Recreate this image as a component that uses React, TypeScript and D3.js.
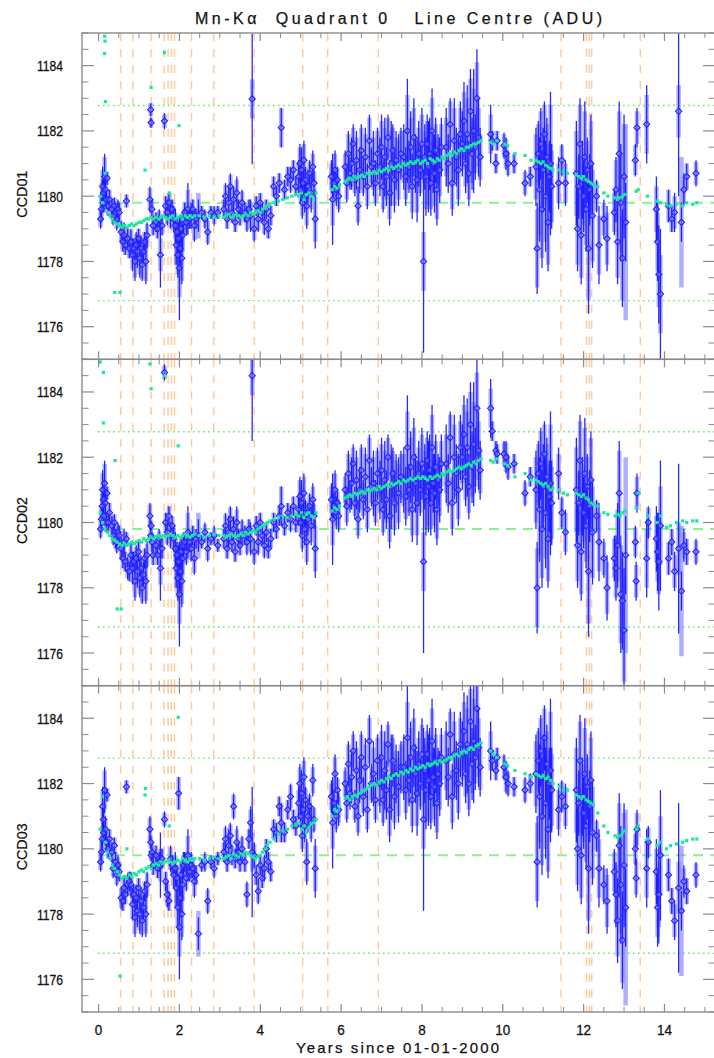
import React from "react";
import * as d3 from "d3";

// ---------------- data ----------------
const X_DOMAIN = [-0.41, 15.25];
const Y_DOMAIN = [1175, 1185];
const Y_MAJOR = [1176, 1178, 1180, 1182, 1184];
const X_MAJOR = [0, 2, 4, 6, 8, 10, 12, 14];
const PANEL_NAMES = ["CCD01", "CCD02", "CCD03"];
const TITLE = "Mn-K\u03b1  Quadrant 0   Line Centre (ADU)";
const X_TITLE = "Years since 01-01-2000";

// reference levels (dotted band and dashed centre)
const REF_DOTTED = [1176.8, 1182.78];
const REF_DASHED = [1179.8];

// event epochs (orange dashed verticals)
const EVENTS = [0.55, 0.85, 1.3, 1.62, 1.72, 1.8, 1.88, 2.3, 2.85, 3.85, 5.05, 5.67, 6.92, 11.44, 12.07, 12.14, 12.2, 13.4];

// observation epochs (years)
const TIMES = [
  0.05, 0.07, 0.09, 0.10, 0.12, 0.13, 0.15, 0.17, 0.19, 0.21, 0.24, 0.27,
  0.33, 0.36, 0.39, 0.42, 0.45, 0.48, 0.51,
  0.56, 0.60, 0.63, 0.66, 0.69, 0.72, 0.76,
  0.80, 0.84, 0.87, 0.90, 0.93, 0.96, 0.99, 1.02, 1.05, 1.08, 1.11, 1.14, 1.17, 1.20,
  1.27, 1.29, 1.30, 1.32, 1.35,
  1.42, 1.46, 1.50, 1.53, 1.57,
  1.63, 1.66, 1.70, 1.74, 1.78, 1.82, 1.86,
  1.90, 1.92, 1.94, 1.96, 1.98, 2.00, 2.02, 2.04, 2.06, 2.08, 2.10,
  2.13, 2.17, 2.21, 2.25, 2.29, 2.33, 2.37, 2.41,
  2.47, 2.55, 2.63, 2.70, 2.78, 2.86, 2.95,
  3.10, 3.14, 3.18, 3.22, 3.26, 3.30, 3.34, 3.38, 3.42, 3.46, 3.50, 3.55,
  3.62, 3.67, 3.72, 3.76, 3.80, 3.85, 3.90, 3.95, 4.00, 4.05, 4.10, 4.15, 4.20, 4.26,
  4.33, 4.40, 4.47, 4.52, 4.60, 4.68, 4.75, 4.82, 4.88,
  4.95, 4.98, 5.00, 5.02, 5.04, 5.06, 5.08, 5.10, 5.12, 5.15, 5.18, 5.22, 5.26, 5.30, 5.33, 5.36,
  5.76, 5.79, 5.82, 5.85, 5.88, 5.91, 5.94,
  6.10, 6.14, 6.18, 6.22, 6.26, 6.30, 6.34, 6.38, 6.42, 6.46, 6.50, 6.55, 6.60, 6.65, 6.70, 6.75, 6.80, 6.85, 6.90,
  6.96, 7.00, 7.04, 7.08, 7.12, 7.16, 7.20, 7.24, 7.28, 7.32, 7.36, 7.42, 7.48,
  7.55, 7.60, 7.64, 7.68, 7.72, 7.76, 7.80, 7.84, 7.88, 7.92, 7.96, 8.00,
  8.04, 8.07, 8.10, 8.13, 8.16, 8.19, 8.22, 8.25, 8.28, 8.31, 8.34, 8.37, 8.40, 8.44, 8.48,
  8.60, 8.65, 8.70, 8.75, 8.80, 8.85, 8.90, 8.95,
  9.00, 9.04, 9.08, 9.12, 9.16, 9.20, 9.24, 9.28, 9.32, 9.36, 9.40, 9.44,
  9.70, 9.74, 9.83, 9.86, 10.03, 10.08, 10.13, 10.28,
  10.55, 10.68,
  10.82, 10.85, 10.88, 10.91, 10.94, 10.97, 11.00, 11.03, 11.06, 11.09, 11.12, 11.15, 11.18, 11.21,
  11.38, 11.46, 11.55,
  11.82, 11.85, 11.88, 11.91, 11.94, 11.97, 12.00, 12.03, 12.06, 12.09, 12.12, 12.15, 12.18, 12.22,
  12.32, 12.38, 12.50, 12.58,
  12.76, 12.80, 12.84, 12.88, 12.92, 12.96, 13.00, 13.04,
  13.28, 13.30, 13.32, 13.56, 13.60,
  13.80, 13.83, 13.86, 13.90,
  14.10, 14.18, 14.25, 14.35, 14.42, 14.48, 14.55,
  14.78,
];

const CCD01 = [
  1179.3, 1179.6, 1180.0, 1180.3, 1180.1, 1179.8, 1180.6, 1180.2, 1179.9, 1180.55, 1179.7, 1179.9,
  1179.6, 1179.4, 1179.7, 1179.5, 1179.3, 1179.6, 1179.5,
  1178.9, 1178.6, 1178.8, 1178.5, 1179.85, 1178.7, 1178.4,
  1178.6, 1178.2, 1178.4, 1178.0, 1178.5, 1178.3, 1178.7, 1178.1, 1178.4, 1177.9, 1178.3, 1178.6, 1178.0, 1178.8,
  1179.9, 1182.65, 1182.25, 1179.6, 1179.1,
  1179.2, 1179.0, 1179.3, 1178.2, 1179.1,
  1182.3, 1179.7, 1179.5, 1179.8, 1179.4, 1179.6, 1179.3,
  1179.1, 1178.5, 1178.9, 1178.2, 1178.7, 1177.8, 1178.4, 1179.0, 1178.1, 1178.8, 1179.2,
  1179.5, 1179.2, 1179.6, 1179.3, 1179.4, 1179.6, 1179.1, 1179.3,
  1179.4, 1179.5, 1179.3, 1178.9, 1179.5, 1179.4, 1179.5,
  1179.6, 1180.0, 1179.3, 1179.8, 1180.3, 1179.5, 1179.9, 1179.2, 1180.1, 1179.6, 1179.4, 1179.8,
  1179.5, 1179.3, 1179.6, 1179.4, 1182.98, 1179.0, 1179.7, 1179.3, 1179.8, 1179.5, 1179.2, 1179.6, 1179.0, 1179.4,
  1180.3, 1180.0, 1180.4, 1182.1, 1180.2, 1180.6, 1180.5, 1180.8, 1180.3,
  1180.6, 1181.0, 1180.2, 1180.8, 1179.8, 1180.4, 1181.1, 1180.0, 1180.5, 1179.7, 1180.3, 1180.7, 1180.1, 1180.9, 1180.4, 1179.3,
  1180.6, 1179.9, 1180.4, 1180.8, 1180.2, 1180.5, 1180.0,
  1180.9, 1180.4, 1181.3, 1180.7, 1181.0, 1181.6, 1180.5, 1181.1, 1179.7, 1180.8, 1181.4, 1180.6, 1181.2, 1180.3, 1181.7, 1180.9, 1181.0, 1180.4, 1181.3,
  1180.9, 1181.5, 1180.3, 1181.2, 1180.6, 1181.8, 1180.1, 1181.0, 1181.4, 1180.5, 1181.1, 1180.8, 1181.3,
  1181.2, 1180.6, 1182.0, 1180.9, 1181.5, 1180.3, 1181.8, 1181.0, 1180.5, 1181.3, 1180.8, 1181.6,
  1178.0, 1181.2, 1180.6, 1181.6, 1180.9, 1181.3, 1180.4, 1182.0, 1181.0, 1180.7, 1181.4, 1180.2, 1181.1, 1180.8, 1181.5,
  1181.5, 1181.0, 1182.2, 1180.4, 1181.7, 1181.2, 1180.8, 1181.9,
  1181.6, 1182.3, 1181.0, 1181.9, 1180.7, 1182.6, 1181.3, 1182.0, 1181.5, 1183.0, 1181.8, 1181.2,
  1181.9, 1181.7, 1181.0, 1181.7, 1181.55, 1181.3, 1181.0, 1181.0,
  1180.4, 1180.6,
  1180.9, 1178.4, 1181.3, 1180.2, 1181.6, 1179.6, 1180.8, 1181.9, 1180.0, 1181.2, 1179.2, 1180.6, 1181.0, 1180.3,
  1180.4, 1181.1, 1180.4,
  1180.7, 1179.0, 1180.3, 1181.6, 1178.8, 1180.5, 1180.0, 1181.2, 1179.6, 1180.8, 1178.4, 1180.2, 1181.0, 1179.4,
  1180.0, 1178.5, 1179.3, 1178.7,
  1179.5, 1180.2, 1178.6, 1181.3, 1179.8, 1178.1, 1180.6, 1179.2,
  1181.1, null, 1182.1, 1182.2, null,
  1179.6, 1178.6, 1177.6, 1177.0,
  1179.7, 1179.3, 1179.5, 1182.6, 1179.2, 1180.2, 1180.6,
  1180.7,
];

const CCD02 = [
  1179.8, 1180.1, 1180.5, 1181.0, 1180.7, 1180.2, 1181.2, 1180.6, 1180.0, 1180.9, 1180.0, 1180.3,
  1179.9, 1179.6, 1180.0, 1179.5, 1179.4, 1179.7, 1179.6,
  1179.2, 1178.9, 1179.4, 1178.8, 1179.5, 1178.6, 1178.5,
  1179.0, 1178.6, 1178.8, 1178.2, 1178.9, 1178.5, 1179.1, 1178.3, 1178.6, 1178.0, 1178.4, 1178.9, 1178.2, 1179.0,
  1180.2, 1179.6, 1179.9, 1179.4, 1179.0,
  1179.3, 1179.0, 1179.5, 1178.6, 1179.2,
  1184.6, 1180.0, 1179.7, 1180.2, 1179.6, 1179.9, 1179.5,
  1179.2, 1178.6, 1179.0, 1178.3, 1178.8, 1177.8, 1178.5, 1179.1, 1178.2, 1178.9, 1179.3,
  1179.4, 1179.1, 1179.7, 1179.4, 1179.2, 1179.6, 1178.9, 1179.5,
  1179.6, 1179.4, 1179.7, 1179.2, 1179.5, 1179.6, 1179.3,
  1179.5, 1179.9, 1179.2, 1179.7, 1180.1, 1179.4, 1179.8, 1179.1, 1180.0, 1179.5, 1179.3, 1179.7,
  1179.6, 1179.4, 1179.8, 1179.5, 1184.5, 1179.1, 1179.9, 1179.4, 1180.0, 1179.6, 1179.3, 1179.7, 1179.2, 1179.5,
  1180.0, 1179.8, 1180.2, 1180.5, 1179.9, 1180.3, 1180.1, 1180.5, 1180.0,
  1180.4, 1180.8, 1180.0, 1180.6, 1179.6, 1180.2, 1180.9, 1179.8, 1180.3, 1179.4, 1180.1, 1180.5, 1179.9, 1180.7, 1180.2, 1179.2,
  1180.7, 1180.1, 1180.5, 1181.0, 1180.3, 1180.6, 1180.2,
  1181.0, 1180.5, 1181.5, 1180.8, 1181.2, 1181.8, 1180.6, 1181.3, 1180.1, 1181.0, 1181.6, 1180.7, 1181.4, 1180.4, 1181.9, 1181.1, 1181.2, 1180.6, 1181.5,
  1181.0, 1181.6, 1180.4, 1181.3, 1180.7, 1182.0, 1180.2, 1181.1, 1181.5, 1180.6, 1181.2, 1180.9, 1181.4,
  1181.3, 1180.8, 1182.3, 1181.0, 1181.7, 1180.4, 1182.0, 1181.2, 1180.6, 1181.5, 1181.0, 1181.8,
  1178.8, 1181.4, 1180.8, 1181.9, 1181.1, 1181.6, 1180.6, 1182.3, 1181.2, 1180.9, 1181.7, 1180.4, 1181.3, 1181.0, 1181.8,
  1181.8, 1181.2, 1182.6, 1180.6, 1182.0, 1181.5, 1181.0, 1182.3,
  1182.0, 1182.7, 1181.4, 1182.3, 1181.1, 1183.0, 1181.7, 1182.4, 1181.9, 1183.5, 1182.2, 1181.6,
  1183.5, 1182.8, 1182.2, 1182.1, 1182.1, 1182.0, 1181.7, 1181.8,
  1180.9, 1181.4,
  1181.0, 1178.0, 1181.5, 1180.4, 1181.8, 1179.8, 1181.1, 1182.1, 1180.3, 1181.4, 1179.5, 1180.8, 1181.2, 1180.6,
  1181.5, 1180.3, 1179.7,
  1181.0, 1179.3, 1180.6, 1181.9, 1179.1, 1180.8, 1180.3, 1181.5, 1179.9, 1181.1, 1178.5, 1180.5, 1181.3, 1179.7,
  1180.2, 1179.4, 1178.9, 1178.0,
  1178.9, 1178.6, 1179.3, 1180.9, 1177.8, 1177.6, 1176.7, 1179.0,
  1179.4, 1178.2, 1180.9, 1178.9, 1180.0,
  1179.5, 1179.1, 1178.8, 1179.9,
  1178.9, 1179.4, 1178.5, 1179.2, 1177.9, 1179.3, 1179.1,
  1179.1,
];

const CCD03 = [
  1179.6, 1179.9, 1180.3, 1181.3, 1180.9, 1180.5, 1181.8, 1180.6, 1180.2, 1181.65, 1180.0, 1180.3,
  1179.9, 1179.4, 1180.1, 1179.6, 1179.2, 1179.5, 1179.3,
  1178.5, 1178.4, 1178.8, 1178.6, 1181.9, 1178.9, 1179.0,
  1178.9, 1178.3, 1178.6, 1177.9, 1178.5, 1178.1, 1178.8, 1178.0, 1178.4, 1177.8, 1178.2, 1178.7, 1178.0, 1178.9,
  1180.6, 1180.2, 1179.8, 1179.9, 1179.5,
  1179.8, 1179.4, 1179.6, 1179.5, 1179.7,
  1180.9, 1179.0, 1178.6, 1178.4, 1179.7, 1179.5, 1179.2,
  1179.4, 1178.8, 1179.1, 1178.2, 1181.7, 1177.6, 1178.5, 1179.2, 1178.0, 1178.9, 1179.5,
  1179.6, 1179.1, 1179.8, 1179.3, 1179.5, 1179.4, 1179.0, 1179.2,
  1177.4, 1179.5, 1179.6, 1178.4, 1179.6, 1179.4, 1179.7,
  1179.9, 1180.3, 1179.6, 1180.1, 1180.4, 1179.8, 1181.3, 1179.7, 1180.2, 1179.9, 1179.6, 1180.0,
  1179.6, 1178.6, 1180.3, 1180.8, 1179.9, 1179.8, 1179.2, 1178.7, 1179.5, 1179.1, 1179.4, 1180.0, 1179.6, 1179.3,
  1180.6, 1180.5, 1181.3, 1180.8, 1180.5, 1181.2, 1181.6, 1180.9, 1180.7,
  1181.4, 1182.0, 1181.0, 1181.7, 1180.4, 1181.2, 1182.2, 1180.7, 1181.5, 1179.6, 1181.0, 1181.3, 1180.8, 1182.1, 1180.9, 1179.4,
  1181.6, 1180.8, 1181.4, 1182.3, 1181.0, 1181.8, 1181.2,
  1182.0, 1181.4, 1182.6, 1181.7, 1182.2, 1183.0, 1181.3, 1182.4, 1181.0, 1182.1, 1182.8, 1181.6, 1182.5, 1181.2, 1183.3, 1182.0, 1182.3, 1181.5, 1182.7,
  1182.0, 1182.8, 1181.5, 1182.4, 1181.8, 1183.2, 1181.2, 1182.2, 1182.7, 1181.6, 1182.3, 1181.9, 1182.5,
  1182.5, 1181.8, 1183.4, 1182.1, 1182.8, 1181.5, 1183.1, 1182.3, 1181.7, 1182.6, 1182.0, 1182.9,
  1180.9, 1182.4, 1181.8, 1182.9, 1182.1, 1182.6, 1181.6, 1183.3, 1182.2, 1181.9, 1182.7, 1181.4, 1182.3, 1182.0, 1182.8,
  1182.7, 1182.2, 1183.5, 1181.6, 1182.9, 1182.4, 1182.0, 1183.2,
  1182.9, 1183.6, 1182.3, 1183.2, 1182.0, 1183.9, 1182.6, 1183.3, 1182.8, 1184.3, 1183.1, 1182.5,
  1183.0, 1182.7, 1182.4, 1182.8, 1182.5, 1182.2, 1182.0, 1181.9,
  1181.8, 1182.0,
  1182.3, 1179.6, 1182.7, 1181.6, 1183.0, 1181.0, 1182.2, 1183.4, 1181.4, 1182.6, 1180.6, 1182.0, 1182.4, 1181.8,
  1181.2, 1181.6, 1181.3,
  1181.8, 1180.0, 1181.4, 1182.7, 1179.8, 1181.6, 1181.1, 1182.3, 1180.7, 1181.9, 1179.4, 1181.3, 1182.1, 1180.5,
  1180.4, 1179.4, 1178.9, 1178.4,
  1179.3, 1178.6, 1177.8, 1180.1, 1178.9, 1177.2, 1179.5, 1178.2,
  1180.0, 1179.1, 1180.6, 1179.4, 1180.2,
  1179.3, 1178.2, 1178.6, 1179.8,
  1179.2, 1178.4, 1177.8, 1178.8, 1178.1, 1179.0, 1178.7,
  1179.2,
];

// half-lengths of the thin (dark) and thick (pale) error bars
const ERR_THIN = [
  0.3, 0.4, 0.5, 0.6, 0.4, 0.3, 0.7, 0.4, 0.3, 0.2, 0.3, 0.3,
  0.3, 0.3, 0.25, 0.3, 0.35, 0.3, 0.3,
  0.35, 0.3, 0.4, 0.3, 0.2, 0.35, 0.3,
  0.4, 0.5, 0.3, 0.6, 0.4, 0.5, 0.3, 0.6, 0.4, 0.5, 0.4, 0.3, 0.7, 0.4,
  0.4, 0.2, 0.15, 0.3, 0.3,
  0.3, 0.3, 0.3, 1.0, 0.3,
  0.25, 0.3, 0.4, 0.3, 0.4, 0.3, 0.4,
  0.5, 0.6, 0.4, 0.7, 0.5, 1.6, 0.6, 0.4, 0.8, 0.5, 0.4,
  0.3, 0.4, 0.8, 0.3, 0.4, 0.3, 0.5, 0.3,
  0.5, 0.2, 0.3, 0.4, 0.2, 0.3, 0.2,
  0.3, 0.4, 0.3, 0.5, 0.4, 0.3, 0.4, 0.3, 0.5, 0.3, 0.3, 0.4,
  0.3, 0.4, 0.3, 0.5, 2.0, 0.4, 0.3, 0.4, 0.3, 0.3, 0.4, 0.3, 0.3, 0.3,
  0.3, 0.3, 0.3, 0.6, 0.3, 0.3, 0.4, 0.3, 0.3,
  0.5, 0.6, 0.4, 0.7, 0.5, 0.4, 0.6, 0.5, 0.4, 0.7, 0.5, 0.4, 0.6, 0.5, 0.4, 0.9,
  0.5, 1.4, 0.4, 0.6, 0.5, 0.4, 0.5,
  0.5, 0.6, 0.7, 0.5, 0.8, 0.6, 0.5, 0.9, 0.6, 0.7, 0.8, 0.6, 0.9, 0.7, 0.8, 0.6, 1.0, 0.7, 0.8,
  0.9, 1.0, 0.8, 1.2, 0.9, 0.7, 1.0, 1.3, 0.8, 1.0, 0.9, 1.1, 0.8,
  1.0, 0.9, 1.6, 0.8, 1.1, 1.0, 1.2, 0.9, 1.3, 1.0, 0.8, 1.1,
  2.8, 1.0, 1.2, 0.9, 1.4, 1.1, 1.0, 1.3, 0.9, 1.2, 1.0, 1.1, 0.8, 1.0, 0.9,
  1.2, 0.9, 0.8, 1.0, 1.3, 0.9, 1.1, 1.0,
  1.0, 1.2, 0.9, 1.5, 1.0, 1.3, 1.1, 1.9, 1.0, 1.5, 1.2, 0.9,
  0.9, 0.3, 0.3, 0.3, 0.4, 0.5, 0.4, 0.3,
  0.4, 0.3,
  1.2, 1.4, 1.0, 1.6, 1.1, 1.8, 1.3, 1.0, 1.7, 1.2, 1.5, 1.1, 2.2, 1.3,
  0.8, 0.5, 0.7,
  1.6, 1.3, 1.0, 1.4, 1.5, 1.2, 1.1, 1.7, 1.3, 1.0, 2.0, 1.1, 1.5, 1.6,
  0.5, 1.2, 0.6, 1.0,
  0.7, 1.0, 1.3, 1.6, 1.8, 1.5, 1.9, 1.2,
  0.5, 0.6, 0.6, 1.2, 0.5,
  1.0, 1.2, 1.5, 2.0,
  0.5, 0.4, 0.6, 2.6, 0.6, 0.5, 0.4,
  0.4,
];

const ERR_THICK = [
  0.25, 0.35, 0.4, 0.5, 0.35, 0.3, 0.6, 0.35, 0.3, 0.2, 0.3, 0.3,
  0.3, 0.25, 0.25, 0.3, 0.3, 0.25, 0.3,
  0.3, 0.3, 0.35, 0.3, 0.2, 0.3, 0.3,
  0.35, 0.45, 0.3, 0.5, 0.35, 0.4, 0.3, 0.5, 0.35, 0.45, 0.35, 0.3, 0.6, 0.35,
  0.35, 0.2, 0.15, 0.3, 0.3,
  0.3, 0.3, 0.25, 0.5, 0.3,
  0.2, 0.3, 0.35, 0.3, 0.35, 0.3, 0.35,
  0.4, 0.6, 0.4, 0.6, 0.5, 0.9, 0.5, 0.4, 0.7, 0.5, 0.3,
  0.3, 0.35, 0.6, 0.3, 0.35, 0.3, 0.45, 0.3,
  0.7, 0.2, 0.25, 0.35, 0.2, 0.25, 0.2,
  0.3, 0.35, 0.3, 0.4, 0.35, 0.3, 0.35, 0.3, 0.4, 0.3, 0.3, 0.35,
  0.3, 0.35, 0.3, 0.4, 0.6, 0.35, 0.3, 0.35, 0.3, 0.3, 0.35, 0.3, 0.3, 0.3,
  0.3, 0.3, 0.3, 0.6, 0.3, 0.3, 0.35, 0.3, 0.3,
  0.4, 0.5, 0.35, 0.6, 0.4, 0.35, 0.5, 0.4, 0.35, 0.6, 0.4, 0.35, 0.5, 0.4, 0.35, 0.7,
  0.4, 0.8, 0.35, 0.5, 0.4, 0.35, 0.4,
  0.4, 0.5, 0.6, 0.4, 0.7, 0.5, 0.4, 0.7, 0.5, 0.6, 0.7, 0.5, 0.7, 0.6, 0.7, 0.5, 0.8, 0.6, 0.7,
  0.7, 0.8, 0.7, 0.9, 0.7, 0.6, 0.8, 1.0, 0.7, 0.8, 0.7, 0.9, 0.7,
  0.8, 0.7, 1.1, 0.7, 0.9, 0.8, 0.9, 0.7, 1.0, 0.8, 0.7, 0.9,
  0.9, 0.8, 1.0, 0.7, 1.2, 0.9, 0.8, 1.0, 0.7, 1.0, 0.8, 0.9, 0.7, 0.8, 0.7,
  0.9, 0.7, 0.7, 0.8, 1.0, 0.7, 0.9, 0.8,
  0.8, 0.9, 0.7, 1.1, 0.8, 1.0, 0.9, 1.3, 0.8, 1.1, 0.9, 0.7,
  0.6, 0.3, 0.3, 0.3, 0.35, 0.45, 0.35, 0.3,
  0.35, 0.3,
  1.0, 1.2, 0.9, 1.4, 1.0, 1.5, 1.1, 0.9, 1.4, 1.0, 1.3, 1.0, 1.8, 1.1,
  0.6, 0.45, 0.6,
  1.3, 1.1, 0.9, 1.2, 1.3, 1.0, 0.9, 1.4, 1.1, 0.9, 1.6, 0.9, 1.3, 1.4,
  0.45, 0.9, 0.5, 0.8,
  0.6, 0.9, 1.1, 1.3, 1.5, 1.3, 1.6, 3.0,
  0.45, 0.5, 0.5, 0.9, 0.45,
  0.7, 0.9, 1.0, 1.2,
  0.5, 0.4, 0.5, 0.8, 2.0, 0.4, 0.4,
  0.35,
];

// smoothed trend (cyan points)
const CYAN_T = [
  0.04, 0.10, 0.16, 0.22, 0.28, 0.34, 0.40, 0.46, 0.52, 0.58,
  0.64, 0.70, 0.76, 0.82, 0.88, 0.94, 1.00, 1.06, 1.12, 1.18,
  1.24, 1.30, 1.36, 1.42, 1.48, 1.54, 1.60, 1.66, 1.72, 1.78,
  1.84, 1.90, 1.96, 2.02, 2.08, 2.14, 2.20, 2.26, 2.32, 2.38,
  2.50, 2.62, 2.74, 2.86, 2.98,
  3.10, 3.16, 3.22, 3.28, 3.34, 3.40, 3.46, 3.52, 3.58, 3.64,
  3.70, 3.76, 3.82, 3.88, 3.94, 4.00, 4.06, 4.12, 4.18, 4.24,
  4.34, 4.45, 4.56, 4.67, 4.78, 4.88,
  4.96, 5.02, 5.08, 5.14, 5.20, 5.26, 5.32, 5.38,
  5.78, 5.84, 5.90, 5.96,
  6.10, 6.16, 6.22, 6.28, 6.34, 6.40, 6.46, 6.52, 6.58, 6.64,
  6.70, 6.76, 6.82, 6.88, 6.94, 7.00, 7.06, 7.12, 7.18, 7.24,
  7.30, 7.36, 7.42, 7.48, 7.54, 7.60, 7.66, 7.72, 7.78, 7.84,
  7.90, 7.96, 8.02, 8.08, 8.14, 8.20, 8.26, 8.32, 8.38, 8.44,
  8.50, 8.56, 8.62, 8.68, 8.74, 8.80, 8.86, 8.92, 8.98, 9.04,
  9.10, 9.16, 9.22, 9.28, 9.34, 9.40, 9.46,
  9.70, 9.76, 9.85, 10.05, 10.12, 10.30, 10.55, 10.70,
  10.82, 10.88, 10.94, 11.00, 11.06, 11.12, 11.18, 11.24,
  11.40, 11.50, 11.60,
  11.82, 11.88, 11.94, 12.00, 12.06, 12.12, 12.18, 12.24,
  12.35, 12.50, 12.60,
  12.78, 12.84, 12.90, 12.96, 13.02,
  13.30, 13.35, 13.58,
  13.82, 13.90, 14.05, 14.15, 14.30, 14.45, 14.55, 14.70, 14.80,
];

const CYAN01 = [
  1180.0, 1179.8, 1180.7, 1179.5, 1179.4, 1179.3, 1179.2, 1179.15, 1179.1, 1179.05,
  1179.1, 1179.05, 1179.1, 1179.15, 1179.1, 1179.15, 1179.2, 1179.2, 1179.25, 1179.3,
  1179.3, 1179.35, 1179.3, 1179.35, 1179.3, 1179.35, 1179.4, 1179.35, 1179.3, 1179.35,
  1179.4, 1179.3, 1179.35, 1179.4, 1179.3, 1179.4, 1179.35, 1179.4, 1179.35, 1179.4,
  1179.4, 1179.35, 1179.4, 1179.35, 1179.4,
  1179.35, 1179.4, 1179.45, 1179.35, 1179.4, 1179.45, 1179.4, 1179.35, 1179.4, 1179.45,
  1179.4, 1179.5, 1179.45, 1179.5, 1179.55, 1179.5, 1179.6, 1179.65, 1179.7, 1179.75,
  1179.8, 1179.85, 1179.9, 1179.95, 1180.0, 1180.05,
  1180.0, 1180.1, 1179.9, 1180.05, 1180.1, 1180.0, 1179.9, 1180.1,
  1180.2, 1180.3, 1180.25, 1180.35,
  1180.45, 1180.5, 1180.55, 1180.5, 1180.6, 1180.55, 1180.6, 1180.65, 1180.6, 1180.7,
  1180.65, 1180.7, 1180.75, 1180.7, 1180.8, 1180.75, 1180.8, 1180.85, 1180.8, 1180.9,
  1180.85, 1180.9, 1180.95, 1180.9, 1181.0, 1180.95, 1181.0, 1181.05, 1181.0, 1181.05,
  1181.1, 1181.0, 1181.05, 1181.1, 1181.0, 1181.15, 1181.1, 1181.05, 1181.15, 1181.1,
  1181.2, 1181.15, 1181.25, 1181.3, 1181.25, 1181.35, 1181.3, 1181.4, 1181.45, 1181.4,
  1181.5, 1181.5, 1181.55, 1181.6, 1181.6, 1181.65, 1181.7,
  1181.65, 1181.6, 1181.7, 1181.6, 1181.55, 1181.3, 1181.25, 1181.1,
  1181.1, 1181.05, 1181.0, 1181.05, 1180.95, 1180.9, 1180.85, 1180.8,
  1180.8, 1180.75, 1180.7,
  1180.65, 1180.6, 1180.55, 1180.6, 1180.5, 1180.45, 1180.4, 1180.35,
  1180.3, 1180.1, 1180.0,
  1179.95, 1179.9, 1179.95, 1180.0, 1180.05,
  1180.15, 1180.2, 1180.0,
  1179.85, 1179.8, 1179.75, 1179.7, 1179.75, 1179.7, 1179.8, 1179.75, 1179.8,
];

const CYAN02 = [
  1180.3, 1180.0, 1179.8, 1179.7, 1179.6, 1179.5, 1179.45, 1179.4, 1179.35, 1179.3,
  1179.35, 1179.3, 1179.35, 1179.4, 1179.35, 1179.4, 1179.45, 1179.4, 1179.5, 1179.45,
  1179.5, 1179.55, 1179.5, 1179.55, 1179.6, 1179.55, 1179.6, 1179.55, 1179.6, 1179.65,
  1179.6, 1179.55, 1179.6, 1179.55, 1179.6, 1179.65, 1179.6, 1179.55, 1179.6, 1179.65,
  1179.6, 1179.55, 1179.6, 1179.65, 1179.6,
  1179.6, 1179.55, 1179.6, 1179.65, 1179.6, 1179.55, 1179.6, 1179.65, 1179.6, 1179.7,
  1179.65, 1179.7, 1179.75, 1179.7, 1179.8, 1179.85, 1179.9, 1179.95, 1180.0, 1180.05,
  1180.1, 1180.15, 1180.2, 1180.15, 1180.2, 1180.25,
  1180.2, 1180.3, 1180.15, 1180.25, 1180.3, 1180.2, 1180.15, 1180.3,
  1180.35, 1180.45, 1180.4, 1180.5,
  1180.75, 1180.8, 1180.85, 1180.8, 1180.9, 1180.85, 1180.9, 1180.95, 1180.9, 1181.0,
  1180.95, 1181.0, 1181.05, 1181.0, 1181.1, 1181.05, 1181.1, 1181.15, 1181.1, 1181.2,
  1181.15, 1181.2, 1181.25, 1181.2, 1181.3, 1181.25, 1181.3, 1181.35, 1181.3, 1181.35,
  1181.4, 1181.35, 1181.4, 1181.35, 1181.3, 1181.4, 1181.35, 1181.4, 1181.45, 1181.4,
  1181.5, 1181.45, 1181.55, 1181.6, 1181.55, 1181.6, 1181.65, 1181.7, 1181.65, 1181.7,
  1181.75, 1181.8, 1181.75, 1181.85, 1181.8, 1181.9, 1181.95,
  1181.9, 1181.85, 1181.95, 1181.8, 1181.75, 1181.4, 1181.5, 1181.3,
  1181.3, 1181.25, 1181.2, 1181.15, 1181.2, 1181.1, 1181.0, 1181.05,
  1181.0, 1180.9, 1180.85,
  1180.9, 1180.85, 1180.8, 1180.85, 1180.75, 1180.7, 1180.6, 1180.55,
  1180.5, 1180.3, 1180.25,
  1180.2, 1180.25, 1180.2, 1180.3, 1180.35,
  1180.45, 1180.9, 1180.2,
  1180.0, 1180.2, 1179.85, 1179.9, 1180.0, 1180.05, 1180.0, 1180.05, 1180.05,
];

const CYAN03 = [
  1180.6, 1181.6, 1180.2, 1179.9, 1179.7, 1179.5, 1179.4, 1179.3, 1179.2, 1179.1,
  1179.15, 1179.1, 1179.2, 1179.15, 1179.25, 1179.2, 1179.3, 1179.35, 1179.3, 1179.4,
  1179.45, 1179.4, 1179.5, 1179.55, 1179.5, 1179.6, 1179.55, 1179.6, 1179.65, 1179.6,
  1179.55, 1179.6, 1179.65, 1179.6, 1179.7, 1179.65, 1179.6, 1179.7, 1179.65, 1179.7,
  1179.7, 1179.65, 1179.7, 1179.75, 1179.7,
  1179.7, 1179.75, 1179.8, 1179.7, 1179.85, 1179.8, 1179.75, 1179.85, 1179.8, 1179.9,
  1179.85, 1179.8, 1179.75, 1179.7, 1179.75, 1179.8, 1179.9, 1180.0, 1180.1, 1180.2,
  1180.3, 1180.45, 1180.55, 1180.6, 1180.7, 1180.75,
  1180.8, 1180.6, 1180.7, 1180.5, 1180.65, 1180.75, 1180.8, 1180.9,
  1181.0, 1181.2, 1181.15, 1181.3,
  1181.55, 1181.6, 1181.5, 1181.6, 1181.65, 1181.6, 1181.7, 1181.75, 1181.8, 1181.85,
  1181.9, 1181.95, 1182.0, 1181.95, 1182.05, 1182.1, 1182.05, 1182.15, 1182.2, 1182.15,
  1182.25, 1182.3, 1182.25, 1182.35, 1182.3, 1182.4, 1182.35, 1182.45, 1182.4, 1182.5,
  1182.45, 1182.5, 1182.55, 1182.5, 1182.6, 1182.55, 1182.6, 1182.65, 1182.6, 1182.7,
  1182.65, 1182.7, 1182.75, 1182.8, 1182.75, 1182.85, 1182.9, 1182.85, 1182.95, 1183.0,
  1182.95, 1183.05, 1183.1, 1183.05, 1183.15, 1183.2, 1183.25,
  1183.0, 1182.9, 1182.8, 1182.6, 1182.55, 1182.4, 1182.3, 1182.2,
  1182.3, 1182.25, 1182.2, 1182.25, 1182.15, 1182.2, 1182.1, 1182.0,
  1181.9, 1181.8, 1181.8,
  1181.65, 1181.6, 1181.55, 1181.6, 1181.5, 1181.45, 1181.4, 1181.35,
  1181.1, 1180.7, 1180.5,
  1180.4, 1180.35, 1180.4, 1180.5, 1180.55,
  1180.6, 1180.7, 1180.3,
  1180.1, 1180.2, 1180.0, 1180.1, 1180.15, 1180.2, 1180.25, 1180.3, 1180.3,
];

// isolated cyan points away from the trend
const OUT01_T = [0.15, 0.16, 0.15, 0.17, 0.40, 0.53, 1.15, 1.30, 1.63, 1.99, 1.75];
const OUT01_V = [1184.9, 1184.75, 1184.37, 1182.9, 1177.05, 1177.05, 1180.8, 1183.33, 1184.4, 1182.16, 1180.1];
const OUT02_T = [0.04, 0.12, 0.12, 0.41, 0.46, 0.56, 1.27, 1.30, 1.64, 1.97];
const OUT02_V = [1184.92, 1184.6, 1183.05, 1181.9, 1177.35, 1177.35, 1184.86, 1184.1, 1184.5, 1182.35];
const OUT03_T = [0.53, 1.97, 0.70, 1.15, 1.16, 1.75];
const OUT03_V = [1176.1, 1184.03, 1180.0, 1181.65, 1181.85, 1180.7];

// ---------------- drawing ----------------
const W = 714;
const H = 1058;
const LEFT = 82;
const RIGHT = 715;
const TOP = 33;
const BOTTOM = 1012;
const FONT = "'Liberation Sans', Arial, Helvetica, sans-serif";

const AXIS_COL = "#8a8a8a";
const EVENT_COL = "#ffc898";
const DOT_COL = "#5fef5f";
const DASH_COL = "#8ff08f";
const PALE_COL = "#7b7bff";
const DARK_COL = "#1212ff";
const CYAN_COL = "#18ea98";

function diamond(cx: number, cy: number, r: number) {
  return `M${cx},${cy - r}L${cx + r},${cy}L${cx},${cy + r}L${cx - r},${cy}Z`;
}

export default function App() {
  const x = d3.scaleLinear().domain(X_DOMAIN).range([LEFT, RIGHT]);
  const ph = (BOTTOM - TOP) / 3;
  const panels = [
    { name: PANEL_NAMES[0], vals: CCD01, cyan: CYAN01, ot: OUT01_T, ov: OUT01_V },
    { name: PANEL_NAMES[1], vals: CCD02, cyan: CYAN02, ot: OUT02_T, ov: OUT02_V },
    { name: PANEL_NAMES[2], vals: CCD03, cyan: CYAN03, ot: OUT03_T, ov: OUT03_V },
  ];
  const yMinor = d3.range(Y_DOMAIN[0], Y_DOMAIN[1] + 0.001, 0.5).filter((v) => Math.abs(v % 2) > 0.01);
  const xMinor = d3.range(0, X_DOMAIN[1], 0.5).filter((v) => Math.abs(v % 2) > 0.01);

  return (
    <svg
      width={W}
      height={H}
      style={{ position: "absolute", left: 0, top: 0, background: "#fff" }}
      fontFamily={FONT}
    >
      <rect x={0} y={0} width={W} height={H} fill="#fff" />
      <defs>
        {panels.map((p, i) => (
          <clipPath id={`clip${i}`} key={i}>
            <rect x={LEFT} y={TOP + i * ph} width={RIGHT - LEFT} height={ph} />
          </clipPath>
        ))}
      </defs>

      <text
        x={(LEFT + RIGHT) / 2}
        y={24}
        textAnchor="middle"
        fontSize={16}
        fill="#111"
        stroke="#111"
        strokeWidth={0.25}
        textLength={407}
        lengthAdjust="spacing"
        style={{ whiteSpace: "pre" }}
      >
        {TITLE}
      </text>

      {panels.map((p, i) => {
        const top = TOP + i * ph;
        const bottom = top + ph;
        const y = d3.scaleLinear().domain(Y_DOMAIN).range([bottom, top]);
        const n = Math.min(TIMES.length, p.vals.length, ERR_THIN.length, ERR_THICK.length);
        const idx = d3.range(n).filter((k) => p.vals[k] !== null && p.vals[k] !== undefined);
        const nc = Math.min(CYAN_T.length, p.cyan.length);
        return (
          <g key={i}>
            <g clipPath={`url(#clip${i})`}>
              {EVENTS.map((e, k) => (
                <line
                  key={`ev${k}`}
                  x1={x(e)}
                  x2={x(e)}
                  y1={top}
                  y2={bottom}
                  stroke={EVENT_COL}
                  strokeWidth={1.4}
                  strokeDasharray="8,8"
                />
              ))}
              {REF_DOTTED.map((v, k) => (
                <line
                  key={`rd${k}`}
                  x1={LEFT + 16}
                  x2={RIGHT}
                  y1={y(v)}
                  y2={y(v)}
                  stroke={DOT_COL}
                  strokeWidth={1.4}
                  strokeDasharray="1.6,3.4"
                />
              ))}
              {REF_DASHED.map((v, k) => (
                <line
                  key={`rm${k}`}
                  x1={LEFT + 16}
                  x2={RIGHT}
                  y1={y(v)}
                  y2={y(v)}
                  stroke={DASH_COL}
                  strokeWidth={2}
                  strokeDasharray="10,7"
                />
              ))}
              {idx.map((k) => {
                const v = p.vals[k] as number;
                return (
                  <line
                    key={`pb${k}`}
                    x1={x(TIMES[k])}
                    x2={x(TIMES[k])}
                    y1={y(v - ERR_THICK[k])}
                    y2={y(v + ERR_THICK[k])}
                    stroke={PALE_COL}
                    strokeOpacity={0.6}
                    strokeWidth={4.5}
                  />
                );
              })}
              {idx.map((k) => {
                const v = p.vals[k] as number;
                return (
                  <line
                    key={`db${k}`}
                    x1={x(TIMES[k])}
                    x2={x(TIMES[k])}
                    y1={y(v - ERR_THIN[k])}
                    y2={y(v + ERR_THIN[k])}
                    stroke={DARK_COL}
                    strokeOpacity={0.9}
                    strokeWidth={1.3}
                  />
                );
              })}
              {idx.map((k) => (
                <path
                  key={`mk${k}`}
                  d={diamond(x(TIMES[k]), y(p.vals[k] as number), 3.1)}
                  fill="#8a8aff"
                  fillOpacity={0.5}
                  stroke="#2222ff"
                  strokeWidth={1.1}
                />
              ))}
              {d3.range(nc).map((k) => (
                <rect
                  key={`cy${k}`}
                  x={x(CYAN_T[k]) - 1.6}
                  y={y(p.cyan[k]) - 1.6}
                  width={3.2}
                  height={3.2}
                  fill={CYAN_COL}
                />
              ))}
              {p.ot.map((t, k) => (
                <rect
                  key={`ot${k}`}
                  x={x(t) - 1.6}
                  y={y(p.ov[k]) - 1.6}
                  width={3.2}
                  height={3.2}
                  fill={CYAN_COL}
                />
              ))}
            </g>

            {/* frame */}
            <rect
              x={LEFT}
              y={top}
              width={RIGHT - LEFT}
              height={ph}
              fill="none"
              stroke={AXIS_COL}
              strokeWidth={1.4}
            />
            {/* y ticks */}
            {Y_MAJOR.map((v) => (
              <g key={`ym${v}`}>
                <line x1={LEFT} x2={LEFT + 12} y1={y(v)} y2={y(v)} stroke={AXIS_COL} strokeWidth={1.2} />
                <line x1={RIGHT} x2={RIGHT - 12} y1={y(v)} y2={y(v)} stroke={AXIS_COL} strokeWidth={1.2} />
                <text
                  x={63}
                  y={y(v) + 5.5}
                  textAnchor="end"
                  fontSize={15}
                  fill="#111"
                  stroke="#111"
                  strokeWidth={0.3}
                  textLength={26}
                  lengthAdjust="spacingAndGlyphs"
                >
                  {String(v)}
                </text>
              </g>
            ))}
            {yMinor.map((v) => (
              <g key={`yn${v}`}>
                <line x1={LEFT} x2={LEFT + 6.5} y1={y(v)} y2={y(v)} stroke={AXIS_COL} strokeWidth={1} />
                <line x1={RIGHT} x2={RIGHT - 6.5} y1={y(v)} y2={y(v)} stroke={AXIS_COL} strokeWidth={1} />
              </g>
            ))}
            {/* x ticks top and bottom */}
            {X_MAJOR.map((t) => (
              <g key={`xm${t}`}>
                <line x1={x(t)} x2={x(t)} y1={bottom} y2={bottom - 8} stroke={AXIS_COL} strokeWidth={1.2} />
                <line x1={x(t)} x2={x(t)} y1={top} y2={top + 8} stroke={AXIS_COL} strokeWidth={1.2} />
              </g>
            ))}
            {xMinor.map((t) => (
              <g key={`xn${t}`}>
                <line x1={x(t)} x2={x(t)} y1={bottom} y2={bottom - 5} stroke={AXIS_COL} strokeWidth={1} />
                <line x1={x(t)} x2={x(t)} y1={top} y2={top + 5} stroke={AXIS_COL} strokeWidth={1} />
              </g>
            ))}
            <text
              transform={`translate(27,${(top + bottom) / 2 - 2}) rotate(-90)`}
              textAnchor="middle"
              fontSize={15}
              fill="#111"
              stroke="#111"
              strokeWidth={0.25}
              textLength={47}
              lengthAdjust="spacingAndGlyphs"
            >
              {p.name}
            </text>
          </g>
        );
      })}

      {X_MAJOR.map((t) => (
        <text
          key={`xl${t}`}
          x={x(t)}
          y={1035}
          textAnchor="middle"
          fontSize={15}
          fill="#111"
          stroke="#111"
          strokeWidth={0.3}
          textLength={String(t).length * 7.5}
          lengthAdjust="spacingAndGlyphs"
        >
          {String(t)}
        </text>
      ))}
      <text
        x={(LEFT + RIGHT) / 2 - 1}
        y={1053}
        textAnchor="middle"
        fontSize={15}
        fill="#111"
        stroke="#111"
        strokeWidth={0.25}
        textLength={203}
        lengthAdjust="spacing"
      >
        {X_TITLE}
      </text>
    </svg>
  );
}
